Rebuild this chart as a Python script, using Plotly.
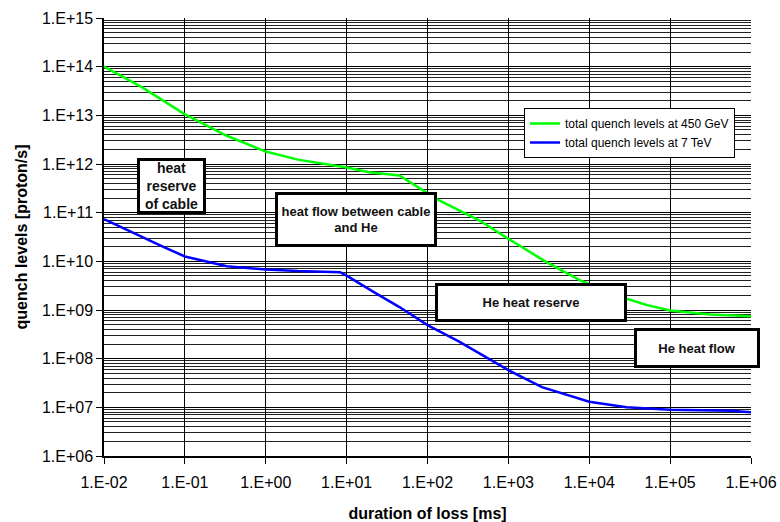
import plotly.graph_objects as go

# duration of loss [ms] and quench levels [proton/s]
green_x = [0.01, 0.03, 0.1, 0.33, 1.0, 2.5, 10, 19, 45, 85, 130, 440, 1000, 3000, 7600, 29000, 52000, 1e5, 3.1e5, 1e6]
green_y = [1.0e14, 3.7e13, 1.05e13, 3.8e12, 1.8e12, 1.23e12, 8.5e11, 6.8e11, 5.8e11, 3.0e11, 1.9e11, 6.9e10, 2.9e10, 9.5e9, 4.1e9, 1.7e9, 1.26e9, 9.8e8, 8.1e8, 7.4e8]

blue_x = [0.01, 0.03, 0.055, 0.1, 0.33, 1.0, 2.5, 8.3, 10, 22, 45, 100, 240, 1000, 2600, 1e4, 29000, 1e5, 5.6e5, 1e6]
blue_y = [7.4e10, 3.1e10, 1.95e10, 1.26e10, 7.9e9, 6.8e9, 6.3e9, 6.0e9, 5.1e9, 2.3e9, 1.15e9, 4.9e8, 2.3e8, 5.8e7, 2.6e7, 1.3e7, 1.0e7, 8.9e6, 8.5e6, 7.9e6]

series_names = ["total quench levels at 450 GeV", "total quench levels at 7 TeV"]

x_tickvals = [1e-2, 1e-1, 1e0, 1e1, 1e2, 1e3, 1e4, 1e5, 1e6]
x_ticktext = ["1.E-02", "1.E-01", "1.E+00", "1.E+01", "1.E+02", "1.E+03", "1.E+04", "1.E+05", "1.E+06"]
y_tickvals = [1e6, 1e7, 1e8, 1e9, 1e10, 1e11, 1e12, 1e13, 1e14, 1e15]
y_ticktext = ["1.E+06", "1.E+07", "1.E+08", "1.E+09", "1.E+10", "1.E+11", "1.E+12", "1.E+13", "1.E+14", "1.E+15"]

box_texts = ["heat<br>reserve<br>of cable", "heat flow between cable<br>and He", "He heat reserve", "He heat flow"]

FONT = "Liberation Sans, Arial, sans-serif"

fig = go.Figure()
fig.add_trace(go.Scatter(x=green_x, y=green_y, mode="lines", name=series_names[0],
                         line=dict(color="#00ff00", width=2.5)))
fig.add_trace(go.Scatter(x=blue_x, y=blue_y, mode="lines", name=series_names[1],
                         line=dict(color="#0000ff", width=2.5)))

# plot area in pixels: x 104..751, y 18..456
def px(x):
    return (x - 104) / 647.0

def py(y):
    return 1 - (y - 18) / 438.0

boxes = [
    # text, cx, cy, w, h, size
    (box_texts[0], 171.5, 186, 63, 50, 14),
    (box_texts[1], 356, 219.5, 156, 49, 13),
    (box_texts[2], 531, 302.5, 186, 33, 13),
    (box_texts[3], 697, 348, 120, 34, 13),
]
annotations = []
for t, cx, cy, w, h, s in boxes:
    annotations.append(dict(
        text="<b>" + t + "</b>", x=px(cx), y=py(cy), xref="paper", yref="paper",
        xanchor="center", yanchor="middle", showarrow=False,
        width=w, height=h, bgcolor="white", bordercolor="black", borderwidth=3,
        borderpad=0, font=dict(size=s, color="#111", family=FONT), align="center", valign="middle"))

fig.update_layout(
    width=780, height=522,
    margin=dict(l=104, r=29, t=18, b=66),
    paper_bgcolor="white", plot_bgcolor="white",
    font=dict(family=FONT, color="black", size=16),
    showlegend=True,
    legend=dict(x=px(524), y=py(108), xanchor="left", yanchor="top",
                bgcolor="white", bordercolor="black", borderwidth=1,
                font=dict(size=12, family=FONT), tracegroupgap=0,
                itemwidth=30),
    annotations=annotations,
    xaxis=dict(type="log", range=[-2, 6], tickmode="array", tickvals=x_tickvals, ticktext=x_ticktext,
               showgrid=True, gridcolor="black", gridwidth=1, automargin=False,
               ticks="outside", ticklen=6, tickcolor="black", ticklabelstandoff=5,
               showline=True, linecolor="black", linewidth=1.5, mirror=False,
               tickfont=dict(size=16), zeroline=False,
               title=dict(text="<b>duration of loss [ms]</b>", font=dict(size=16), standoff=18)),
    yaxis=dict(type="log", range=[6, 15], tickmode="array", tickvals=y_tickvals, ticktext=y_ticktext,
               showgrid=True, gridcolor="black", gridwidth=1, automargin=False,
               minor=dict(dtick="D1", showgrid=True, gridcolor="#222", gridwidth=1, ticks=""),
               ticks="outside", ticklen=6, tickcolor="black",
               showline=True, linecolor="black", linewidth=1.5,
               tickfont=dict(size=16), zeroline=False,
               title=dict(text="<b>quench levels [proton/s]</b>", font=dict(size=16), standoff=10)),
)

fig.write_html("out.html")
